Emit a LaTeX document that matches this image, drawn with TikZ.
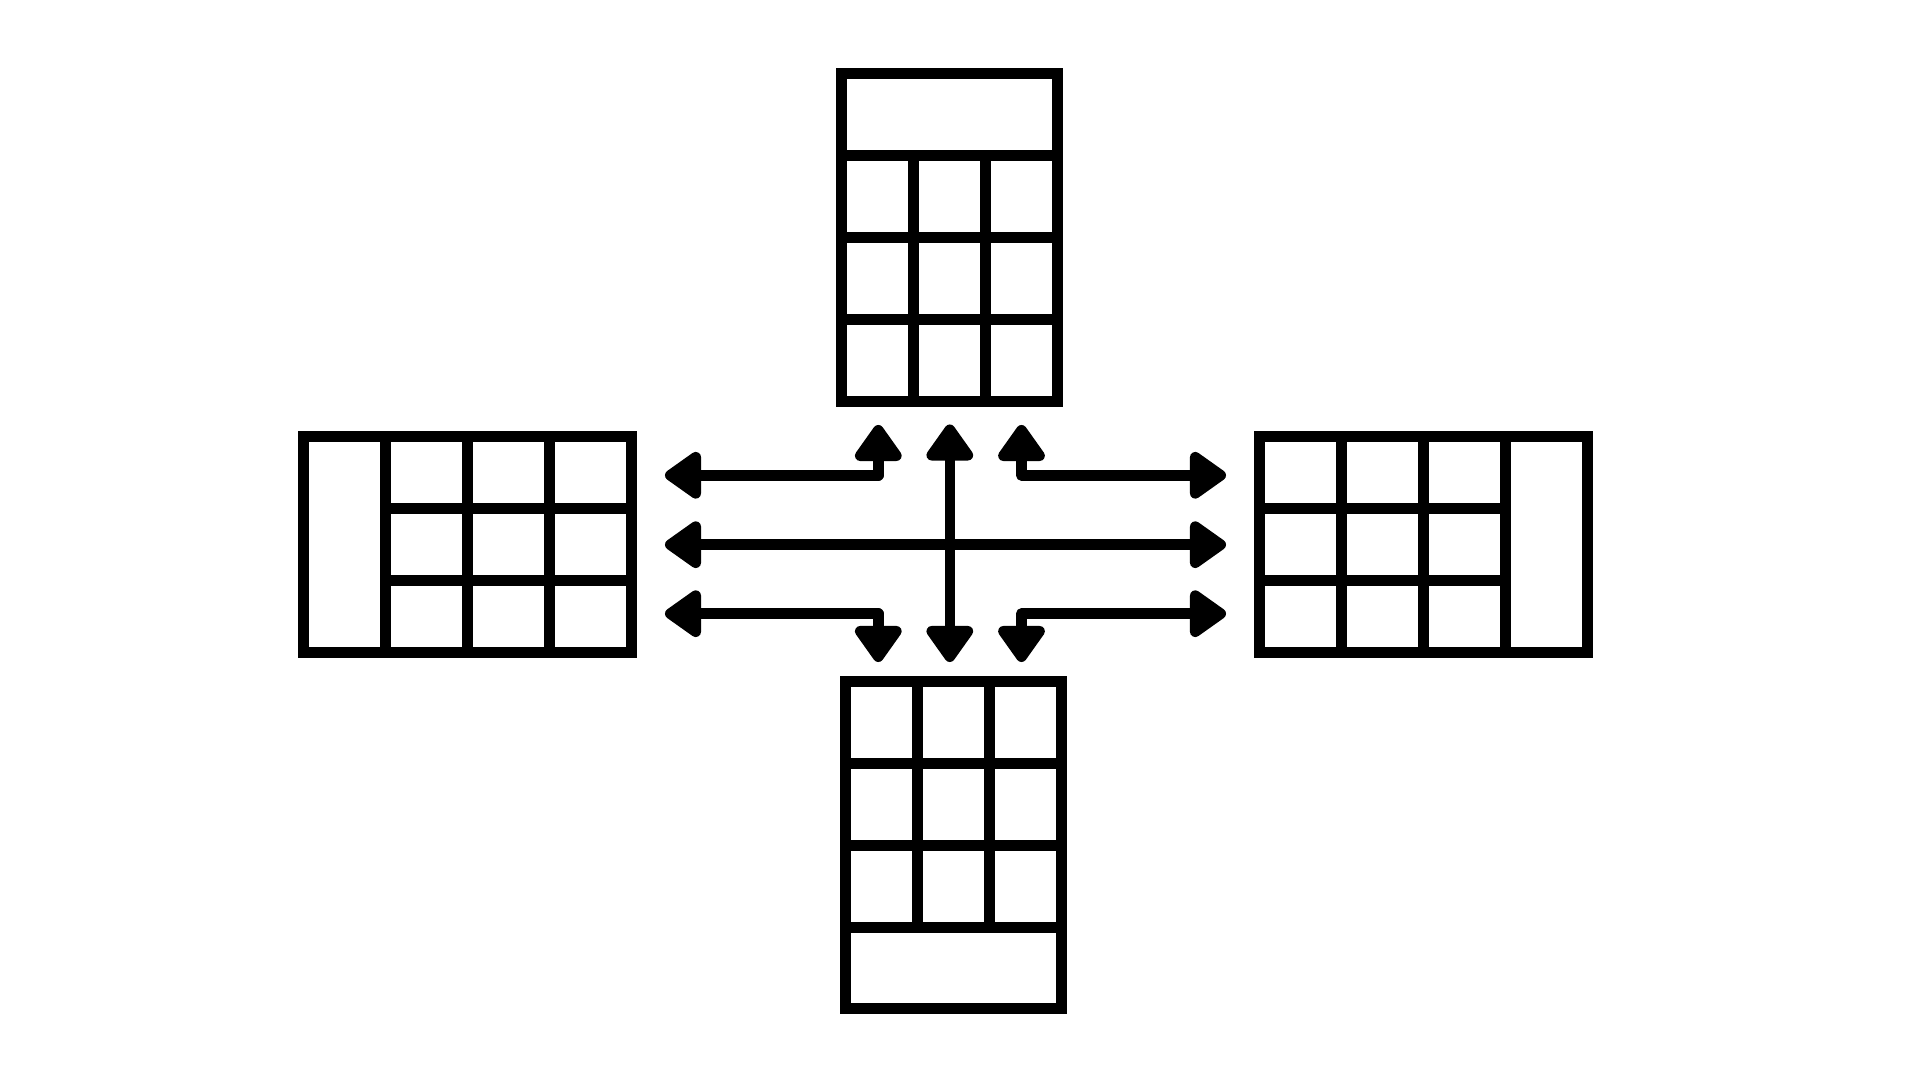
\documentclass[tikz,border=0pt]{standalone}
\begin{document}
\begin{tikzpicture}[x=0.01cm,y=-0.01cm,
  lw/.style={line width=3.1pt},
  box/.style={draw, lw, rectangle, inner sep=0pt, outer sep=0pt},
  gridline/.style={draw, lw},
  conn/.style={draw, line width=3pt, line join=round, shorten <=0.2cm, shorten >=0.2cm},
  head/.style={fill=black, draw=black, line width=3pt, line join=round},
]
\useasboundingbox (0,0) rectangle (1920,1080);
% boxes
\node[box, minimum width=2.155cm, minimum height=3.28cm] (top) at (949.25,237.5) {};
\node[box, minimum width=3.28cm, minimum height=2.15cm] (left) at (467.5,544.5) {};
\node[box, minimum width=3.278cm, minimum height=2.15cm] (right) at (1423.6,544.5) {};
\node[box, minimum width=2.153cm, minimum height=3.274cm] (bottom) at (953.65,845) {};
% top grid
\foreach \y in {155.5,237.5,319.5} \draw[gridline] (841.5,\y) -- (1057,\y);
\foreach \x in {913.5,985.5} \draw[gridline] (\x,155.5) -- (\x,401.5);
% left grid
\foreach \x in {385.3,467.5,549.3} \draw[gridline] (\x,437) -- (\x,652);
\foreach \y in {508.7,580.5} \draw[gridline] (385.3,\y) -- (631.5,\y);
% right grid
\foreach \x in {1341.3,1423.3,1505.3} \draw[gridline] (\x,437) -- (\x,652);
\foreach \y in {508.7,580.5} \draw[gridline] (1259.7,\y) -- (1505.3,\y);
% bottom grid
\foreach \y in {763.3,845.3,927.3} \draw[gridline] (846,\y) -- (1061.3,\y);
\foreach \x in {917.3,989.3} \draw[gridline] (\x,681.3) -- (\x,927.3);
% connector end points (outer tips of the arrowheads)
\coordinate (tlU) at (878.3,425);
\coordinate (tlC) at (878.3,475.3);
\coordinate (tlL) at (665,475.3);
\coordinate (mU) at (949.8,424.5);
\coordinate (mD) at (949.8,662);
\coordinate (trU) at (1021.5,425);
\coordinate (trC) at (1021.5,475.3);
\coordinate (trR) at (1226,475.3);
\coordinate (mL) at (665,544.7);
\coordinate (mR) at (1226,544.7);
\coordinate (blL) at (665,613.7);
\coordinate (blC) at (878.3,613.7);
\coordinate (blD) at (878.3,662);
\coordinate (brR) at (1226,613.7);
\coordinate (brC) at (1021.5,613.7);
\coordinate (brD) at (1021.5,662);
% connectors
\draw[conn] (tlU) -- (tlC) -- (tlL);
\draw[conn] (trU) -- (trC) -- (trR);
\draw[conn] (mU) -- (mD);
\draw[conn] (mL) -- (mR);
\draw[conn] (blL) -- (blC) -- (blD);
\draw[conn] (brR) -- (brC) -- (brD);
% arrowheads
\foreach \c in {tlL,mL,blL}
  \filldraw[head, shift={(\c)}] (5.25,0) -- (30.75,-18.1) -- (30.75,18.1) -- cycle;
\foreach \c in {trR,mR,brR}
  \filldraw[head, shift={(\c)}] (-5.25,0) -- (-30.75,-18.1) -- (-30.75,18.1) -- cycle;
\foreach \c in {tlU,mU,trU}
  \filldraw[head, shift={(\c)}] (0,5.25) -- (-18.1,30.75) -- (18.1,30.75) -- cycle;
\foreach \c in {blD,mD,brD}
  \filldraw[head, shift={(\c)}] (0,-5.25) -- (-18.1,-30.75) -- (18.1,-30.75) -- cycle;
\end{tikzpicture}
\end{document}
